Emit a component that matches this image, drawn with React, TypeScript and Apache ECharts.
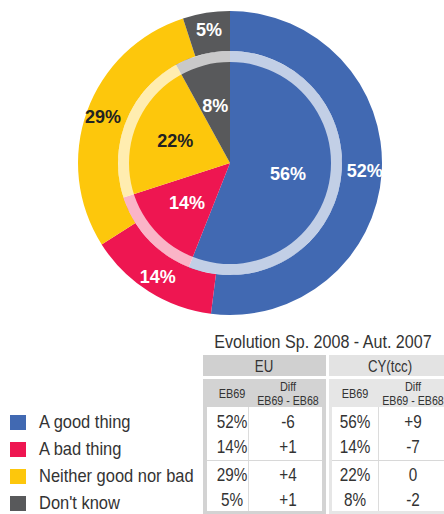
import React, { useEffect, useRef } from "react";
import * as echarts from "echarts";

const categories = ["A good thing", "A bad thing", "Neither good nor bad", "Don't know"];
const colors = ["#4169b2", "#ee1651", "#fdc70c", "#58595b"];
const labelColors = ["#ffffff", "#ffffff", "#222222", "#ffffff"];
const euValues = [52, 14, 29, 5];
const cyValues = [56, 14, 22, 8];
const euDiff = ["-6", "+1", "+4", "+1"];
const cyDiff = ["+9", "-7", "0", "-2"];
const tableTitle = "Evolution Sp. 2008 - Aut. 2007";
const groupHeaders = ["EU", "CY(tcc)"];
const colHeader1 = "EB69";
const colHeader2a = "Diff";
const colHeader2b = "EB69 - EB68";

const FONT = "'Liberation Sans', Arial, Helvetica, sans-serif";

export default function App() {
  const ref = useRef<HTMLDivElement>(null);
  useEffect(() => {
    if (!ref.current) return;
    const chart = echarts.init(ref.current, null, { renderer: "svg" });

    const mkData = (vals: number[]) =>
      vals.map((v, i) => ({
        name: categories[i],
        value: v,
        itemStyle: { color: colors[i] },
        label: { color: labelColors[i] },
      }));

    const txt = (s: string, x: number, y: number, size: number, sx: number, align = "center", fill = "#333") => ({
      type: "text",
      x,
      y,
      scaleX: sx,
      silent: true,
      style: { text: s, fill, font: `${size}px ${FONT}`, textAlign: align, textVerticalAlign: "middle" },
    });

    const graphics: any[] = [];

    // legend
    const legendY = [422.5, 449.5, 476.5, 503.5];
    categories.forEach((c, i) => {
      graphics.push({
        type: "rect",
        silent: true,
        shape: { x: 10, y: legendY[i] - 7.5, width: 16, height: 15 },
        style: { fill: colors[i] },
      });
      graphics.push(txt(c, 39, legendY[i] - 1, 18.5, 0.89, "left"));
    });

    // table
    const rowY = [422.5, 447.5, 475, 500];
    graphics.push(txt(tableTitle, 323, 342, 18.5, 0.87));
    const blocks = [
      { x: 203, w: 123, hdr: "#d0d0d0", frame: "#d3d3d3", border: 4, vals: euValues, diff: euDiff, c1: 232, c2: 288, sep: 248, hx: 264 },
      { x: 329, w: 120, hdr: "#e3e3e3", frame: "#e6e6e6", border: 3, vals: cyValues, diff: cyDiff, c1: 355, c2: 413, sep: 378, hx: 390 },
    ];
    blocks.forEach((b, bi) => {
      graphics.push({ type: "rect", silent: true, shape: { x: b.x, y: 355, width: b.w, height: 21 }, style: { fill: b.hdr } });
      graphics.push({ type: "rect", silent: true, shape: { x: b.x, y: 379, width: b.w, height: 135 }, style: { fill: b.frame } });
      graphics.push({ type: "rect", silent: true, shape: { x: b.x + b.border, y: 407, width: b.w - 2 * b.border, height: 104 }, style: { fill: "#ffffff" } });
      graphics.push({ type: "line", silent: true, shape: { x1: b.sep + 0.5, y1: 407, x2: b.sep + 0.5, y2: 511 }, style: { stroke: "#dcdcdc", lineWidth: 1 } });
      graphics.push({ type: "line", silent: true, shape: { x1: b.x + b.border, y1: 460.5, x2: b.x + b.w - b.border, y2: 460.5 }, style: { stroke: "#d8d8d8", lineWidth: 1 } });
      graphics.push(txt(groupHeaders[bi], b.hx, 366, 17, 0.78));
      graphics.push(txt(colHeader1, b.c1, 393.5, 13, 0.84));
      graphics.push(txt(colHeader2a, b.c2, 386.5, 13, 0.84));
      graphics.push(txt(colHeader2b, b.c2, 400.5, 13, 0.82));
      b.vals.forEach((v, i) => {
        graphics.push(txt(`${v}%`, b.c1, rowY[i], 18, 0.85));
        graphics.push(txt(b.diff[i], b.c2, rowY[i], 18, 0.85));
      });
    });

    chart.setOption({
      animation: false,
      backgroundColor: "#ffffff",
      graphic: graphics,
      series: [
        {
          type: "pie",
          name: "EU",
          center: [230, 163],
          radius: [112, 152],
          startAngle: 90,
          clockwise: true,
          silent: true,
          data: mkData(euValues),
          label: { show: true, position: "inside", formatter: "{c}%", fontSize: 18, fontWeight: "bold", fontFamily: FONT },
          labelLine: { show: false },
        },
        {
          type: "pie",
          name: "CY",
          center: [230, 163],
          radius: [0, 112],
          startAngle: 90,
          clockwise: true,
          silent: true,
          data: mkData(cyValues),
          label: { show: true, position: "inside", formatter: "{c}%", fontSize: 18, fontWeight: "bold", fontFamily: FONT },
          labelLine: { show: false },
        },
        {
          type: "pie",
          name: "ring",
          center: [230, 163],
          radius: [101, 112],
          silent: true,
          data: [{ name: "ring", value: 1, itemStyle: { color: "rgba(255,255,255,0.68)" } }],
          label: { show: false },
          labelLine: { show: false },
        },
      ],
    });
    return () => chart.dispose();
  }, []);
  return <div ref={ref} style={{ position: "fixed", left: 0, top: 0, width: 444, height: 514 }} />;
}
